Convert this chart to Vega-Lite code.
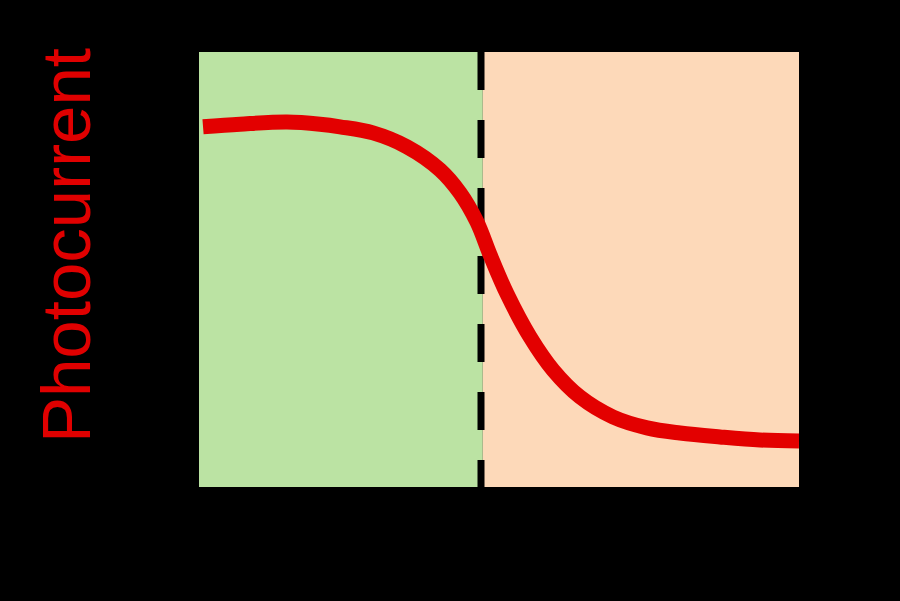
{
  "$schema": "https://vega.github.io/schema/vega-lite/v6.json",
  "width": 600,
  "height": 435,
  "autosize": {"type": "none"},
  "padding": {"left": 199, "top": 52, "right": 101, "bottom": 114},
  "background": "#000000",
  "config": {"view": {"stroke": null}, "font": "Liberation Sans"},
  "datasets": {
    "regions": [
      {"region": "green", "start": 0, "end": 47.3, "top": 100, "bottom": 0},
      {"region": "peach", "start": 47.3, "end": 100, "top": 100, "bottom": 0}
    ],
    "divider": [
      {"pos": 47.0, "top": 100, "bottom": 0}
    ],
    "curve": [
      {"x": 0.67, "y": 82.8},
      {"x": 6.83, "y": 83.4},
      {"x": 14.67, "y": 83.9},
      {"x": 20.17, "y": 83.4},
      {"x": 23.5, "y": 82.8},
      {"x": 29.0, "y": 81.4},
      {"x": 34.67, "y": 78.2},
      {"x": 40.17, "y": 72.9},
      {"x": 43.5, "y": 67.6},
      {"x": 46.33, "y": 60.9},
      {"x": 48.5, "y": 53.4},
      {"x": 51.33, "y": 44.4},
      {"x": 55.17, "y": 34.5},
      {"x": 59.0, "y": 26.9},
      {"x": 63.5, "y": 20.7},
      {"x": 69.0, "y": 16.1},
      {"x": 74.67, "y": 13.6},
      {"x": 80.17, "y": 12.4},
      {"x": 86.83, "y": 11.5},
      {"x": 93.5, "y": 10.8},
      {"x": 100.0, "y": 10.6}
    ]
  },
  "layer": [
    {
      "data": {"name": "regions"},
      "mark": {"type": "rect"},
      "encoding": {
        "x": {"field": "start", "type": "quantitative", "scale": {"domain": [0, 100], "nice": false, "zero": false}, "axis": null},
        "x2": {"field": "end"},
        "y": {"field": "top", "type": "quantitative", "scale": {"domain": [0, 100], "nice": false, "zero": false},
          "axis": {"title": "Photocurrent", "titleColor": "#e00000", "titleFontSize": 69, "titleFontWeight": "normal", "titleFont": "Liberation Sans",
            "titleAngle": -90, "titleX": -131, "titleY": 193, "titleAlign": "center", "titleBaseline": "middle",
            "labels": false, "ticks": false, "domain": false, "grid": false}},
        "y2": {"field": "bottom"},
        "color": {"field": "region", "type": "nominal", "scale": {"domain": ["green", "peach"], "range": ["#bbe3a3", "#fdd9b9"]}, "legend": null}
      }
    },
    {
      "data": {"name": "divider"},
      "mark": {"type": "rule", "color": "#000000", "strokeWidth": 7, "strokeDash": [38, 30]},
      "encoding": {
        "x": {"field": "pos", "type": "quantitative"},
        "y": {"field": "top", "type": "quantitative"},
        "y2": {"field": "bottom"}
      }
    },
    {
      "data": {"name": "curve"},
      "mark": {"type": "line", "color": "#e30000", "strokeWidth": 15, "interpolate": "catmull-rom", "strokeCap": "butt"},
      "encoding": {
        "x": {"field": "x", "type": "quantitative"},
        "y": {"field": "y", "type": "quantitative"}
      }
    }
  ]
}
